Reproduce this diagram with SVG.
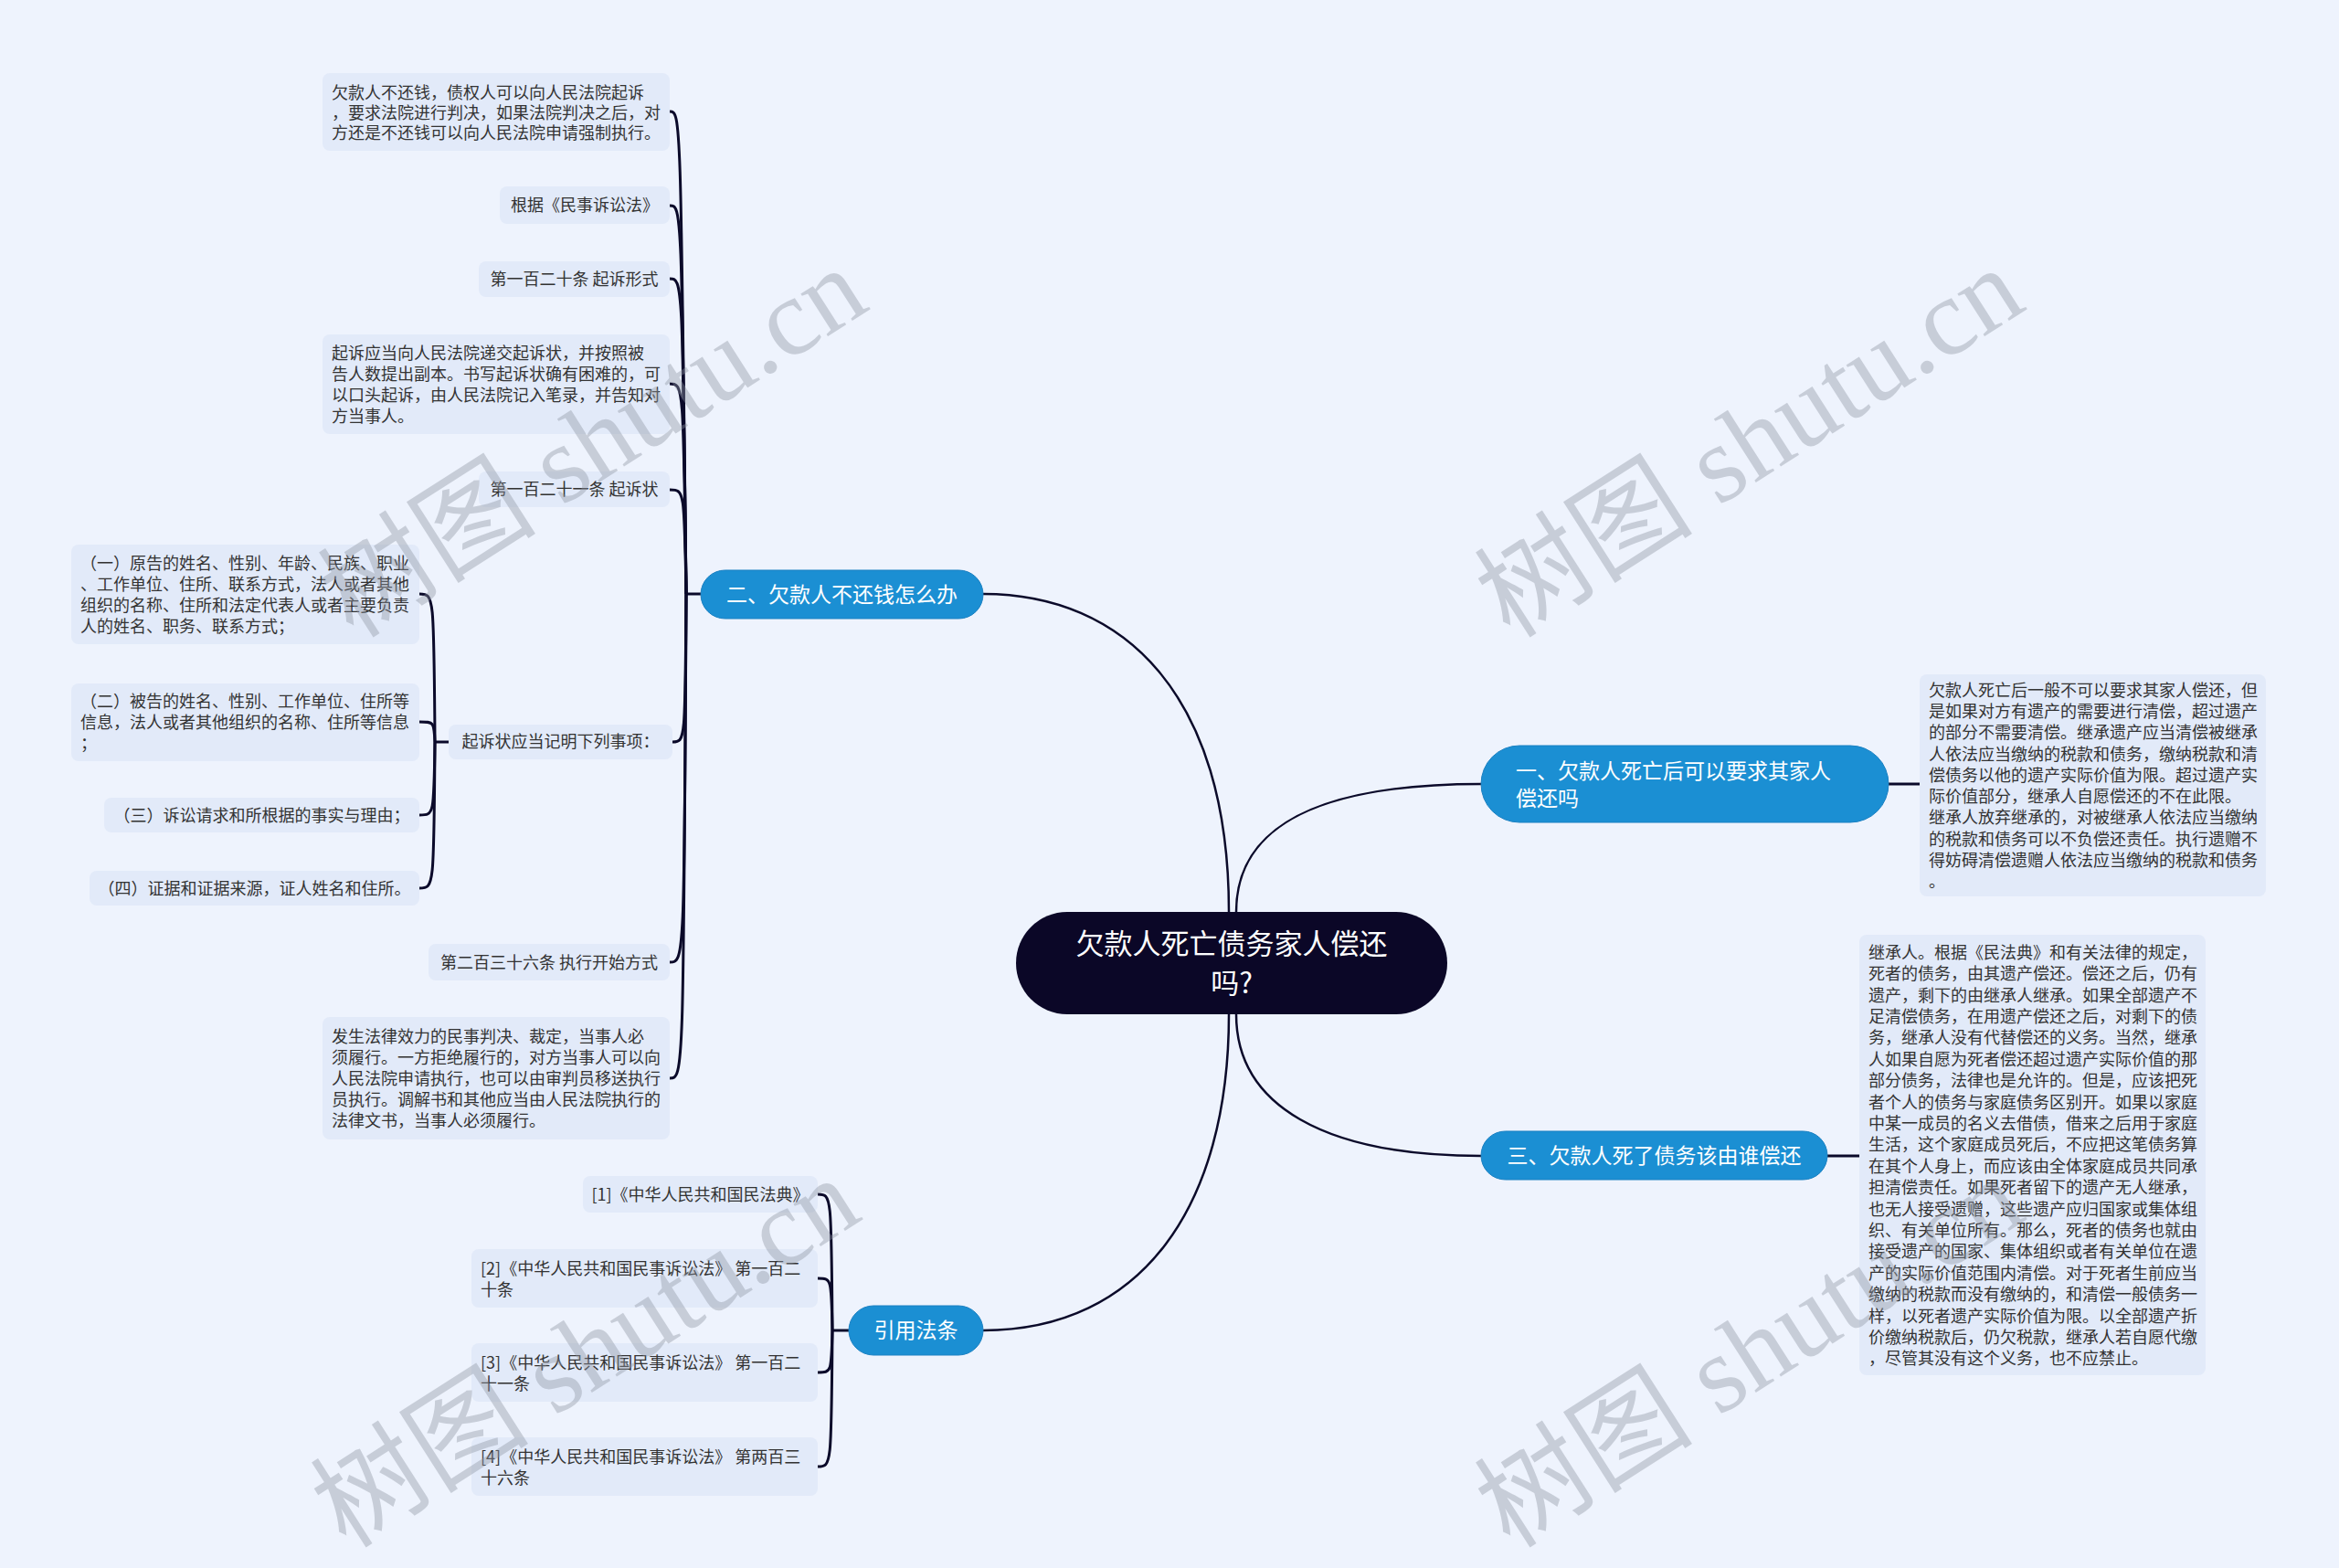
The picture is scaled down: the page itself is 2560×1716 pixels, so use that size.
<svg xmlns="http://www.w3.org/2000/svg" width="2560" height="1716" viewBox="0 0 2560 1716">
<style>
.bg{fill:#eef3fd}
.leaf{fill:#e2eaf9}
.lt{font-family:"Noto Sans CJK SC","Noto Sans",sans-serif;font-size:18px;fill:#333}
.mid{text-anchor:middle}
.blue{fill:#1b8fd3;stroke:#1a80c2;stroke-width:1}
.bt{font-family:"Noto Sans CJK SC","Noto Sans",sans-serif;font-size:23px;fill:#fff}
.root{fill:#0b0727}
.rt{font-family:"Noto Sans CJK SC","Noto Sans",sans-serif;font-size:31px;fill:#fff;text-anchor:middle}
.c1{fill:none;stroke:#0b0a2a;stroke-width:2.5}
.c2{fill:none;stroke:#0b0a2a;stroke-width:3}
.wm{font-family:"Liberation Serif","Noto Sans CJK SC",serif;font-size:120px;fill:#8f96a3;opacity:0.4}
</style>
<rect class="bg" x="0" y="0" width="2560" height="1716"/>

<g id="connectors">
<path class="c1" d="M 1076 650 C 1230 650, 1345 760, 1345 998"/>
<path class="c1" d="M 1353 998 C 1353 900, 1450 858, 1621 858"/>
<path class="c1" d="M 1353 1110 C 1353 1210, 1450 1265, 1621 1265"/>
<path class="c1" d="M 1345 1110 C 1345 1320, 1250 1456, 1076 1456"/>
<path class="c2" d="M 2067 858 L 2101 858"/>
<path class="c2" d="M 2000 1265 L 2035 1265"/>
<path class="c2" d="M 767 650 L 751 650"/>
<path class="c2" d="M 751 650 C 745 122, 745 122, 733 122"/>
<path class="c2" d="M 751 650 C 746 225, 746 225, 733 225"/>
<path class="c2" d="M 751 650 C 747 305, 747 305, 733 305"/>
<path class="c2" d="M 751 650 C 748 420, 748 420, 733 420"/>
<path class="c2" d="M 751 650 C 749 536, 749 536, 733 536"/>
<path class="c2" d="M 751 650 C 750 812, 750 812, 736 812"/>
<path class="c2" d="M 751 650 C 749 1053, 749 1053, 733 1053"/>
<path class="c2" d="M 751 650 C 748 1180, 748 1180, 733 1180"/>
<path class="c2" d="M 491 812 L 476 812"/>
<path class="c2" d="M 476 812 C 475 650, 475 650, 459 650"/>
<path class="c2" d="M 476 812 C 475 790, 475 790, 459 790"/>
<path class="c2" d="M 476 812 C 475 892, 475 892, 459 892"/>
<path class="c2" d="M 476 812 C 475 972, 475 972, 459 972"/>
<path class="c2" d="M 929 1456 L 911 1456"/>
<path class="c2" d="M 911 1456 C 910 1307, 910 1307, 895 1307"/>
<path class="c2" d="M 911 1456 C 910 1399, 910 1399, 895 1399"/>
<path class="c2" d="M 911 1456 C 910 1502, 910 1502, 895 1502"/>
<path class="c2" d="M 911 1456 C 910 1605, 910 1605, 895 1605"/>
</g>

<g id="root">
<rect class="root" x="1112" y="998" width="472" height="112" rx="56"/>
<text class="rt" x="1348" y="1044">欠款人死亡债务家人偿还</text>
<text class="rt" x="1348" y="1087">吗?</text>
</g>

<g id="b2">
<rect class="blue" x="767" y="624" width="309" height="53" rx="26.5"/>
<text class="bt mid" x="921.5" y="659">二、欠款人不还钱怎么办</text>
</g>
<g id="b1">
<rect class="blue" x="1621" y="816" width="446" height="84" rx="42"/>
<text class="bt" x="1659" y="852">一、欠款人死亡后可以要求其家人</text>
<text class="bt" x="1659" y="882">偿还吗</text>
</g>
<g id="b3">
<rect class="blue" x="1621" y="1238" width="379" height="53" rx="26.5"/>
<text class="bt mid" x="1810.5" y="1273">三、欠款人死了债务该由谁偿还</text>
</g>
<g id="b4">
<rect class="blue" x="929" y="1429" width="147" height="54" rx="27"/>
<text class="bt mid" x="1002.5" y="1464">引用法条</text>
</g>

<g id="l2-1">
<rect class="leaf" x="353" y="80" width="380" height="85" rx="8"/>
<text class="lt" x="363" y="108"> 欠款人不还钱，债权人可以向人民法院起诉</text>
<text class="lt" x="363" y="130">，要求法院进行判决，如果法院判决之后，对</text>
<text class="lt" x="363" y="152">方还是不还钱可以向人民法院申请强制执行。</text>
</g>
<g id="l2-2">
<rect class="leaf" x="547" y="204" width="186" height="41" rx="8"/>
<text class="lt mid" x="640" y="231">根据《民事诉讼法》</text>
</g>
<g id="l2-3">
<rect class="leaf" x="524" y="286" width="209" height="39" rx="8"/>
<text class="lt mid" x="628.5" y="312">第一百二十条 起诉形式</text>
</g>
<g id="l2-4">
<rect class="leaf" x="353" y="366" width="380" height="109" rx="8"/>
<text class="lt" x="363" y="393"> 起诉应当向人民法院递交起诉状，并按照被</text>
<text class="lt" x="363" y="416">告人数提出副本。书写起诉状确有困难的，可</text>
<text class="lt" x="363" y="439">以口头起诉，由人民法院记入笔录，并告知对</text>
<text class="lt" x="363" y="462">方当事人。</text>
</g>
<g id="l2-5">
<rect class="leaf" x="524" y="516" width="209" height="39" rx="8"/>
<text class="lt mid" x="628.5" y="542">第一百二十一条 起诉状</text>
</g>
<g id="l2-6">
<rect class="leaf" x="491" y="793" width="245" height="38" rx="8"/>
<text class="lt mid" x="613.5" y="818">起诉状应当记明下列事项：</text>
</g>
<g id="l2-6a">
<rect class="leaf" x="78" y="596" width="381" height="109" rx="8"/>
<text class="lt" x="88" y="623">（一）原告的姓名、性别、年龄、民族、职业</text>
<text class="lt" x="88" y="646">、工作单位、住所、联系方式，法人或者其他</text>
<text class="lt" x="88" y="669">组织的名称、住所和法定代表人或者主要负责</text>
<text class="lt" x="88" y="692">人的姓名、职务、联系方式；</text>
</g>
<g id="l2-6b">
<rect class="leaf" x="78" y="748" width="381" height="85" rx="8"/>
<text class="lt" x="88" y="774">（二）被告的姓名、性别、工作单位、住所等</text>
<text class="lt" x="88" y="797">信息，法人或者其他组织的名称、住所等信息</text>
<text class="lt" x="88" y="820">；</text>
</g>
<g id="l2-6c">
<rect class="leaf" x="114" y="873" width="345" height="38" rx="8"/>
<text class="lt mid" x="286.5" y="899">（三）诉讼请求和所根据的事实与理由；</text>
</g>
<g id="l2-6d">
<rect class="leaf" x="98" y="953" width="361" height="38" rx="8"/>
<text class="lt mid" x="278.5" y="979">（四）证据和证据来源，证人姓名和住所。</text>
</g>
<g id="l2-7">
<rect class="leaf" x="469" y="1033" width="264" height="40" rx="8"/>
<text class="lt mid" x="601" y="1060">第二百三十六条 执行开始方式</text>
</g>
<g id="l2-8">
<rect class="leaf" x="353" y="1113" width="380" height="134" rx="8"/>
<text class="lt" x="363" y="1141"> 发生法律效力的民事判决、裁定，当事人必</text>
<text class="lt" x="363" y="1164">须履行。一方拒绝履行的，对方当事人可以向</text>
<text class="lt" x="363" y="1187">人民法院申请执行，也可以由审判员移送执行</text>
<text class="lt" x="363" y="1210">员执行。调解书和其他应当由人民法院执行的</text>
<text class="lt" x="363" y="1233">法律文书，当事人必须履行。</text>
</g>

<g id="l1-1">
<rect class="leaf" x="2101" y="738" width="379" height="243" rx="8"/>
<text class="lt" x="2111" y="762">欠款人死亡后一般不可以要求其家人偿还，但</text>
<text class="lt" x="2111" y="785">是如果对方有遗产的需要进行清偿，超过遗产</text>
<text class="lt" x="2111" y="808">的部分不需要清偿。继承遗产应当清偿被继承</text>
<text class="lt" x="2111" y="832">人依法应当缴纳的税款和债务，缴纳税款和清</text>
<text class="lt" x="2111" y="855">偿债务以他的遗产实际价值为限。超过遗产实</text>
<text class="lt" x="2111" y="878">际价值部分，继承人自愿偿还的不在此限。</text>
<text class="lt" x="2111" y="901">继承人放弃继承的，对被继承人依法应当缴纳</text>
<text class="lt" x="2111" y="925">的税款和债务可以不负偿还责任。执行遗赠不</text>
<text class="lt" x="2111" y="948">得妨碍清偿遗赠人依法应当缴纳的税款和债务</text>
<text class="lt" x="2111" y="971">。</text>
</g>

<g id="l3-1">
<rect class="leaf" x="2035" y="1023" width="379" height="482" rx="8"/>
<text class="lt" x="2045" y="1049">继承人。根据《民法典》和有关法律的规定，</text>
<text class="lt" x="2045" y="1072">死者的债务，由其遗产偿还。偿还之后，仍有</text>
<text class="lt" x="2045" y="1096">遗产，剩下的由继承人继承。如果全部遗产不</text>
<text class="lt" x="2045" y="1119">足清偿债务，在用遗产偿还之后，对剩下的债</text>
<text class="lt" x="2045" y="1142">务，继承人没有代替偿还的义务。当然，继承</text>
<text class="lt" x="2045" y="1166">人如果自愿为死者偿还超过遗产实际价值的那</text>
<text class="lt" x="2045" y="1189">部分债务，法律也是允许的。但是，应该把死</text>
<text class="lt" x="2045" y="1213">者个人的债务与家庭债务区别开。如果以家庭</text>
<text class="lt" x="2045" y="1236">中某一成员的名义去借债，借来之后用于家庭</text>
<text class="lt" x="2045" y="1259">生活，这个家庭成员死后，不应把这笔债务算</text>
<text class="lt" x="2045" y="1283">在其个人身上，而应该由全体家庭成员共同承</text>
<text class="lt" x="2045" y="1306">担清偿责任。如果死者留下的遗产无人继承，</text>
<text class="lt" x="2045" y="1330">也无人接受遗赠，这些遗产应归国家或集体组</text>
<text class="lt" x="2045" y="1353">织、有关单位所有。那么，死者的债务也就由</text>
<text class="lt" x="2045" y="1376">接受遗产的国家、集体组织或者有关单位在遗</text>
<text class="lt" x="2045" y="1400">产的实际价值范围内清偿。对于死者生前应当</text>
<text class="lt" x="2045" y="1423">缴纳的税款而没有缴纳的，和清偿一般债务一</text>
<text class="lt" x="2045" y="1447">样，以死者遗产实际价值为限。以全部遗产折</text>
<text class="lt" x="2045" y="1470">价缴纳税款后，仍欠税款，继承人若自愿代缴</text>
<text class="lt" x="2045" y="1493">，尽管其没有这个义务，也不应禁止。</text>
</g>

<g id="l4-1">
<rect class="leaf" x="638" y="1287" width="257" height="40" rx="8"/>
<text class="lt mid" x="766.5" y="1314">[1]《中华人民共和国民法典》</text>
</g>
<g id="l4-2">
<rect class="leaf" x="516" y="1367" width="379" height="64" rx="8"/>
<text class="lt" x="526" y="1395">[2]《中华人民共和国民事诉讼法》 第一百二</text>
<text class="lt" x="526" y="1418">十条</text>
</g>
<g id="l4-3">
<rect class="leaf" x="516" y="1470" width="379" height="64" rx="8"/>
<text class="lt" x="526" y="1498">[3]《中华人民共和国民事诉讼法》 第一百二</text>
<text class="lt" x="526" y="1521">十一条</text>
</g>
<g id="l4-4">
<rect class="leaf" x="516" y="1573" width="379" height="64" rx="8"/>
<text class="lt" x="526" y="1601">[4]《中华人民共和国民事诉讼法》 第两百三</text>
<text class="lt" x="526" y="1624">十六条</text>
</g>

<g id="watermarks">
<text class="wm" transform="translate(387,700) rotate(-32.6)">树图 shutu.cn</text>
<text class="wm" transform="translate(1653,700) rotate(-32.6)">树图 shutu.cn</text>
<text class="wm" transform="translate(379,1696) rotate(-32.6)">树图 shutu.cn</text>
<text class="wm" transform="translate(1653,1696) rotate(-32.6)">树图 shutu.cn</text>
</g>
</svg>
